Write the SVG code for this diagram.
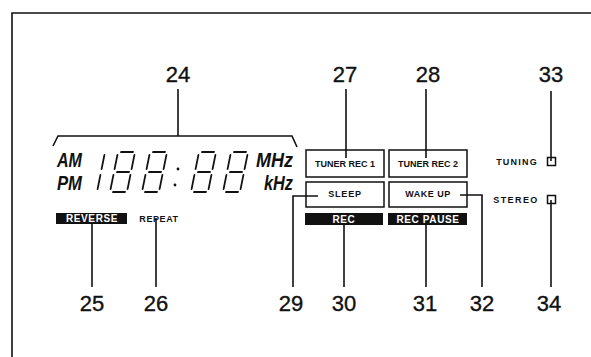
<svg xmlns="http://www.w3.org/2000/svg" width="591" height="357" viewBox="0 0 591 357">
<style>
.num{font-family:"Liberation Sans",Arial,sans-serif;font-size:22px;fill:#111;stroke:#111;stroke-width:0.35;text-anchor:middle}
.lcd{font-family:"Liberation Sans",Arial,sans-serif;font-size:21px;font-style:italic;font-weight:bold;fill:#111}
.sm{font-family:"Liberation Sans",Arial,sans-serif;font-size:9px;font-weight:bold;fill:#111;text-anchor:middle}
.inv{font-family:"Liberation Sans",Arial,sans-serif;font-size:10px;font-weight:bold;fill:#fff;text-anchor:middle;letter-spacing:0.6px}
.box{fill:#fff;stroke:#111;stroke-width:1.5}
.bar{fill:#111}
.ln{fill:none;stroke:#111;stroke-width:1.6}
.seg{fill:none;stroke:#111;stroke-width:1.8;stroke-linecap:round}
</style>
<defs>
<g id="d8" class="seg">
<path d="M3 -40 H15 M17 -37 V-23 M17 -17 V-3 M3 0 H15 M0 -17 V-3 M0 -37 V-23 M3 -20 H15"/>
</g>
</defs>
<rect width="591" height="357" fill="#fff"/>
<path class="ln" d="M12 357 V13 H591"/>

<g id="display">
<text class="lcd" x="57" y="167" textLength="25" lengthAdjust="spacingAndGlyphs">AM</text>
<text class="lcd" x="57" y="190" textLength="25" lengthAdjust="spacingAndGlyphs">PM</text>
<text class="lcd" x="256" y="167" textLength="37" lengthAdjust="spacingAndGlyphs">MHz</text>
<text class="lcd" x="264" y="190" textLength="29" lengthAdjust="spacingAndGlyphs">kHz</text>
<g class="seg" transform="translate(80,192) skewX(-11.3)"><path d="M17 -37 V-23 M17 -17 V-3"/></g>
<use href="#d8" transform="translate(110,192) skewX(-11.3)"/>
<use href="#d8" transform="translate(142,192) skewX(-11.3)"/>
<circle cx="178" cy="169" r="1.4" fill="#111"/>
<circle cx="175" cy="185" r="1.4" fill="#111"/>
<use href="#d8" transform="translate(191,192) skewX(-11.3)"/>
<use href="#d8" transform="translate(223,192) skewX(-11.3)"/>
</g>

<g id="tuner-rec-1"><rect class="box" x="306" y="150" width="78" height="27"/><text class="sm" x="345" y="167">TUNER REC 1</text></g>
<g id="tuner-rec-2"><rect class="box" x="389" y="150" width="78" height="27"/><text class="sm" x="428" y="167">TUNER REC 2</text></g>
<g id="sleep"><rect class="box" x="306" y="182" width="78" height="25"/><text class="sm" x="345" y="197" letter-spacing="0.8">SLEEP</text></g>
<g id="wake-up"><rect class="box" x="389" y="182" width="78" height="25"/><text class="sm" x="428" y="197" letter-spacing="0.5">WAKE UP</text></g>
<g id="reverse"><rect class="bar" x="56" y="213" width="71" height="11"/><text class="inv" x="92" y="222">REVERSE</text></g>
<g id="repeat"><text class="sm" x="159" y="222" font-size="8" letter-spacing="0.6">REPEAT</text></g>
<g id="rec"><rect class="bar" x="305" y="213" width="78" height="12"/><text class="inv" x="344" y="223">REC</text></g>
<g id="rec-pause"><rect class="bar" x="388" y="213" width="79" height="12"/><text class="inv" x="428" y="223">REC PAUSE</text></g>
<g id="tuning"><text class="sm" x="517" y="165" letter-spacing="1.2">TUNING</text><rect x="547.5" y="157.5" width="8" height="8" fill="#fff" stroke="#111" stroke-width="1.5"/></g>
<g id="stereo"><text class="sm" x="516" y="203" letter-spacing="1.4">STEREO</text><rect x="547.5" y="195.5" width="8" height="8" fill="#fff" stroke="#111" stroke-width="1.5"/></g>

<g id="labels">
<text class="num" x="178" y="82">24</text>
<text class="num" x="345" y="82">27</text>
<text class="num" x="428" y="82">28</text>
<text class="num" x="551" y="82">33</text>
<text class="num" x="92" y="311">25</text>
<text class="num" x="156" y="311">26</text>
<text class="num" x="291" y="311">29</text>
<text class="num" x="344" y="311">30</text>
<text class="num" x="425" y="311">31</text>
<text class="num" x="482" y="311">32</text>
<text class="num" x="549" y="311">34</text>
</g>

<g id="connectors" class="ln">
<path d="M53 146 L58 136 H292 L297 147"/>
<path d="M178 89 V136"/>
<path d="M346 89 V158"/>
<path d="M426 89 V158"/>
<path d="M551 91 V161"/>
<path d="M92 224 V287"/>
<path d="M156 218 V287"/>
<path d="M318 196 H293 V287"/>
<path d="M344 225 V287"/>
<path d="M426 225 V287"/>
<path d="M460 195 H482 V287"/>
<path d="M551 200 V287"/>
</g>
</svg>
